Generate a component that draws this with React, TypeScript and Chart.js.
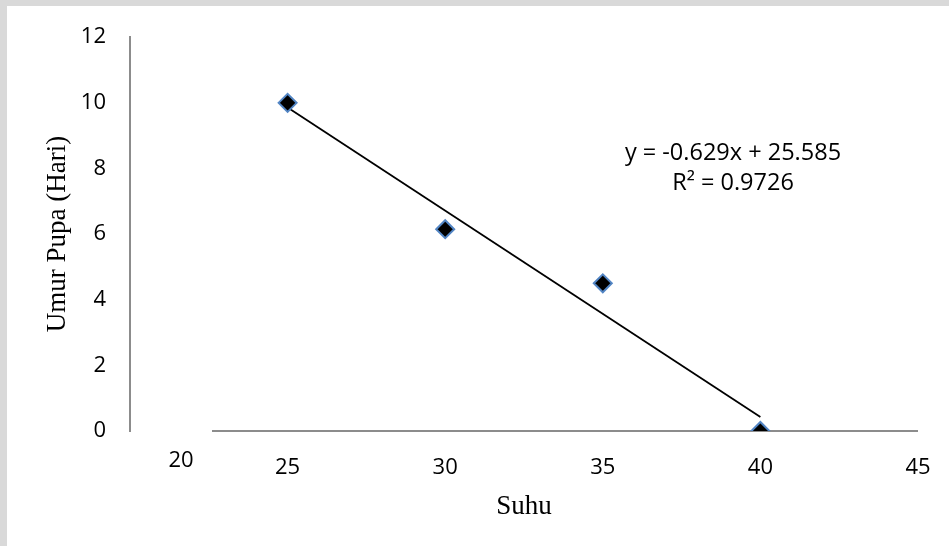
import React, { useEffect, useRef } from "react";
import { Chart, registerables } from "chart.js";

Chart.register(...registerables);

const suhu = [25, 30, 35, 40];
const umurPupa = [10, 6.15, 4.5, 0];
const xTicks = [20, 25, 30, 35, 40, 45];
const yTicks = [0, 2, 4, 6, 8, 10, 12];
const trendSlope = -0.629;
const trendIntercept = 25.585;
const equationLines = ["y = -0.629x + 25.585", "R² = 0.9726"];

const TICK_FONT = "'Open Sans', sans-serif";
const TITLE_FONT = "'Liberation Serif', 'Times New Roman', serif";

const pagePlugin = {
  id: "page",
  beforeDatasetsDraw(chart: any) {
    const { ctx } = chart;
    const xs = chart.scales.x;
    const ys = chart.scales.y;
    ctx.save();
    // x axis line (partly hidden behind the displaced "20" label box)
    const y0 = ys.getPixelForValue(0);
    ctx.strokeStyle = "#8c8c8c";
    ctx.lineWidth = 2;
    ctx.beginPath();
    ctx.moveTo(xs.getPixelForValue(xTicks[0]) + 82, y0);
    ctx.lineTo(xs.getPixelForValue(xTicks[xTicks.length - 1]), y0);
    ctx.stroke();
    ctx.restore();
  },
  afterDraw(chart: any) {
    const { ctx } = chart;
    const xs = chart.scales.x;
    const ys = chart.scales.y;
    const y0 = ys.getPixelForValue(0);
    ctx.save();
    // displaced first tick label
    ctx.fillStyle = "#000";
    ctx.font = `22px ${TICK_FONT}`;
    ctx.textAlign = "center";
    ctx.textBaseline = "middle";
    ctx.fillText(String(xTicks[0]), xs.getPixelForValue(xTicks[0]) + 51, y0 + 30);
    // equation
    ctx.font = `23.5px ${TICK_FONT}`;
    const ex = xs.getPixelForValue(39.13);
    const ey = ys.getPixelForValue(8.47);
    ctx.fillText(equationLines[0], ex, ey);
    ctx.fillText(equationLines[1], ex, ey + 30);
    ctx.restore();
  },
};

export default function App() {
  const ref = useRef<HTMLCanvasElement>(null);
  useEffect(() => {
    if (!ref.current) return;
    const trendX = [suhu[0], suhu[suhu.length - 1]];
    const chart = new Chart(ref.current, {
      type: "scatter",
      data: {
        datasets: [
          {
            label: "Umur Pupa",
            data: suhu.map((x, i) => ({ x, y: umurPupa[i] })),
            pointStyle: "rectRot",
            pointRadius: 9,
            pointHoverRadius: 9,
            pointBackgroundColor: "#000000",
            pointBorderColor: "#5285c4",
            pointBorderWidth: 2,
            order: 1,
          },
          {
            label: "Trend",
            type: "line",
            data: trendX.map((x) => ({ x, y: trendSlope * x + trendIntercept })),
            borderColor: "#000000",
            borderWidth: 1.8,
            pointRadius: 0,
            showLine: true,
            fill: false,
            order: 2,
          } as any,
        ],
      },
      options: {
        responsive: false,
        animation: false,
        events: [],
        layout: { padding: { left: 0, top: 36, right: 31, bottom: 0 } },
        plugins: { legend: { display: false }, tooltip: { enabled: false } },
        scales: {
          x: {
            type: "linear",
            min: 20,
            max: 45,
            afterBuildTicks: (s: any) => {
              s.ticks = xTicks.map((v) => ({ value: v }));
            },
            afterFit: (s: any) => {
              s.height = 115;
            },
            grid: {
              display: true,
              drawOnChartArea: false,
              drawTicks: true,
              tickLength: 20,
              color: "rgba(0,0,0,0)",
            },
            border: { display: false },
            ticks: {
              padding: 4,
              color: "#000",
              font: { family: TICK_FONT, size: 22 },
              callback: (v: any) => (v === xTicks[0] ? "" : String(v)),
            },
            title: {
              display: true,
              text: "Suhu",
              color: "#000",
              font: { family: TITLE_FONT, size: 27 },
              padding: { top: 0, bottom: 23 },
            },
          },
          y: {
            type: "linear",
            min: 0,
            max: 12,
            afterBuildTicks: (s: any) => {
              s.ticks = yTicks.map((v) => ({ value: v }));
            },
            afterFit: (s: any) => {
              s.width = 130;
            },
            grid: { display: false, drawTicks: false },
            border: { display: true, color: "#8c8c8c", width: 2 },
            ticks: {
              padding: 24,
              color: "#000",
              font: { family: TICK_FONT, size: 22 },
            },
            title: {
              display: true,
              text: "Umur Pupa (Hari)",
              color: "#000",
              font: { family: TITLE_FONT, size: 27 },
              padding: { top: 42, bottom: 0 },
            },
          },
        },
      },
      plugins: [pagePlugin],
    });
    return () => chart.destroy();
  }, []);
  return (
    <div style={{ position: "fixed", left: 0, top: 0, width: 949, height: 546, background: "#ffffff", overflow: "hidden" }}>
      <div style={{ position: "absolute", left: 0, top: 0, width: 949, height: 6, background: "#d9d9d9" }} />
      <div style={{ position: "absolute", left: 0, top: 0, width: 7, height: 546, background: "#d9d9d9" }} />
      <canvas
        ref={ref}
        width={949}
        height={546}
        style={{ position: "absolute", left: 0, top: 0, display: "block", background: "transparent" }}
      />
    </div>
  );
}
